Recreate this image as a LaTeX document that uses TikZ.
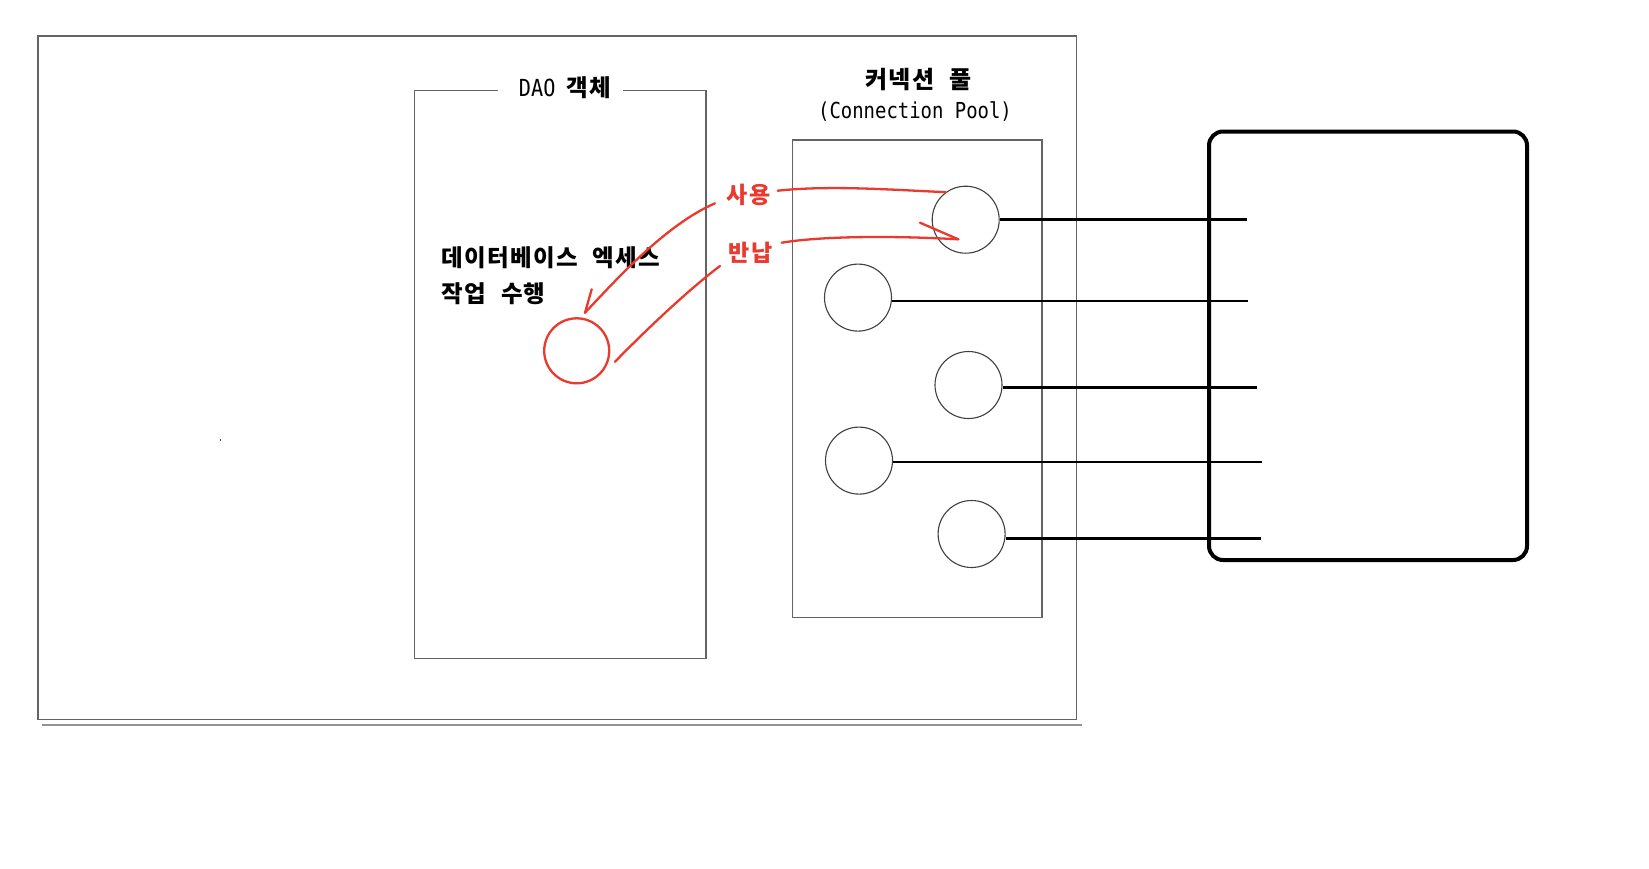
\documentclass[tikz,border=0pt]{standalone}
\usepackage{fontspec}
\newfontfamily\kr[LetterSpace=5.5,WordSpace=2.2]{Noto Sans CJK KR}
\newfontfamily\mono[FakeStretch=0.86]{DejaVu Sans Mono}
\definecolor{redline}{RGB}{232,58,46}
\definecolor{boxgray}{RGB}{100,100,100}
\begin{document}
\begin{tikzpicture}[x=1pt,y=-1pt,
  frame/.style={draw=boxgray, line width=1.3pt},
  poolconn/.style={circle, draw=black!75, line width=1.1pt, minimum size=67pt, inner sep=0pt},
  wire/.style={draw=black, line width=2.4pt},
  redpath/.style={draw=redline, line width=2.3pt, line cap=round},
  lbl/.style={font=\kr\bfseries\fontsize{23.5}{27}\selectfont, inner sep=0pt},
  redlbl/.style={font=\kr\bfseries\fontsize{23}{26}\selectfont, text=redline, inner sep=0pt}]

\useasboundingbox[fill=white] (0,0) rectangle (1649,868);

% outer frame
\draw[frame] (38,36) rectangle (1076.5,719.5);
\draw[draw=gray!85, line width=2pt] (42,725.3) -- (1081.7,725.3);
\fill[black!70] (219.5,439.3) rectangle (221.2,441);

% DAO object box
\draw[frame] (498,90.6) -- (414.3,90.6) -- (414.3,658.6) -- (706,658.6) -- (706,90.6) -- (622.5,90.6);
\node[lbl] (dao) at (565,88) {{\mono\mdseries DAO}\hspace{11pt}객체};

% connection pool box
\draw[frame] (792.8,140) rectangle (1042,617.5);
\node[lbl, font=\kr\bfseries\fontsize{24}{28}\selectfont] (pooltitle) at (918.5,80) {커넥션 풀};
\node[font=\mono\fontsize{22}{26}\selectfont, inner sep=0pt] (poolsub) at (915,111.5) {(Connection Pool)};

% pool connections
\node[poolconn] (c1) at (965.7,219.7) {};
\node[poolconn] (c2) at (858,297.6) {};
\node[poolconn] (c3) at (968.5,385) {};
\node[poolconn] (c4) at (859,460.6) {};
\node[poolconn] (c5) at (971.6,534) {};

\coordinate (e1) at (1247,219.3);
\coordinate (e2) at (1248,300.7);
\coordinate (e3) at (1257,387.3);
\coordinate (e4) at (1262.3,461.7);
\coordinate (e5) at (1260.7,538.3);

\draw[wire] (e1 -| c1.east) -- (e1);
\draw[wire] (e2 -| c2.east) -- (e2);
\draw[wire] (e3 -| c3.east) -- (e3);
\draw[wire] (e4 -| c4.east) -- (e4);
\draw[wire] (e5 -| c5.east) -- (e5);

% database
\node[draw=black, line width=4pt, rounded corners=14pt, minimum width=318pt, minimum height=428.5pt, inner sep=0pt] (db) at (1368,345.75) {};

% DAO work
\node[lbl, anchor=west] (task1) at (441.6,257.6) {데이터베이스 엑세스};
\node[lbl, anchor=west] (task2) at (441.6,293.4) {작업 수행};
\node[circle, draw=redline, line width=2.3pt, minimum size=65pt, inner sep=0pt] (work) at (576.7,350.8) {};

% red labels
\node[redlbl] (use) at (748.5,195) {사용};
\node[redlbl] (ret) at (750.5,252.5) {반납};

% use: pool -> DAO
\coordinate (usestart) at (777.7,190.7);
\coordinate (usefrom) at (715,203.3);
\coordinate (usetip) at (585,312.7);
\coordinate (usebarb) at (591.7,289.3);
\draw[redpath] (usestart) .. controls (830,185) and (895,190) .. (c1.126);
\draw[redpath] (usefrom) .. controls (665,225) and (615,281) .. (usetip);
\draw[redpath] (usebarb) -- (usetip);

% return: DAO -> pool
\coordinate (retstart) at (615,361.7);
\coordinate (retto) at (720,266);
\coordinate (retfrom) at (781.7,242.7);
\coordinate (rettip) at (958.3,239.3);
\coordinate (retbarb) at (920,222.7);
\draw[redpath] (retstart) .. controls (645,331) and (688,290) .. (retto);
\draw[redpath] (retfrom) .. controls (825,235.5) and (900,236) .. (rettip);
\draw[redpath] (retbarb) -- (rettip);
\end{tikzpicture}
\end{document}
